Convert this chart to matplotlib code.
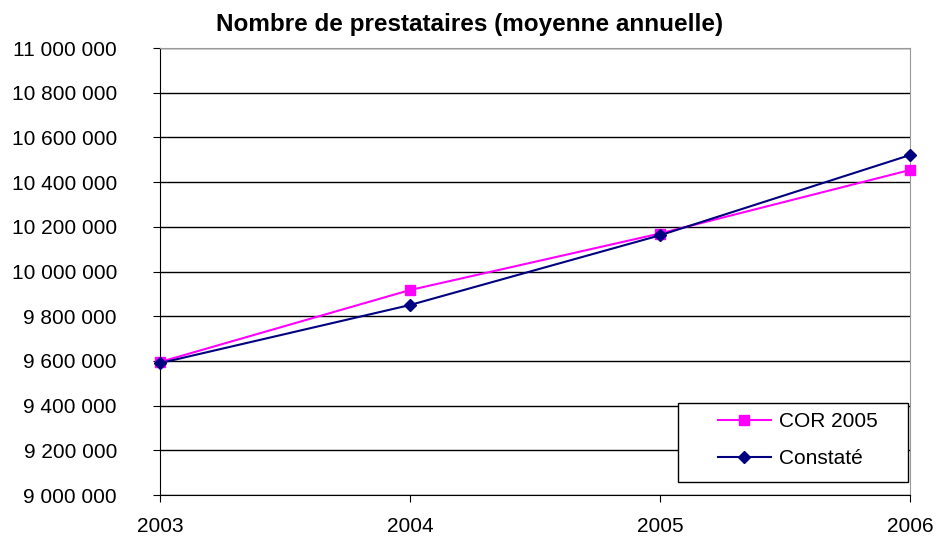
import matplotlib.pyplot as plt
from matplotlib.patches import Rectangle
from matplotlib.ticker import FuncFormatter

years = ['2003', '2004', '2005', '2006']
cor_2005 = [9595000, 9917000, 10170000, 10454000]
constate = [9590000, 9850000, 10162000, 10521000]

plt.rcParams['font.family'] = ['Liberation Sans', 'DejaVu Sans']

W, H = 938, 538
fig = plt.figure(figsize=(W / 100, H / 100), dpi=100)
ax = fig.add_axes([160 / W, 1 - 495 / H, 750 / W, 447 / H])

x = range(len(years))
ax.plot(x, cor_2005, color='#ff00ff', marker='s', markersize=7, linewidth=1.5,
        label='COR 2005', clip_on=False, zorder=3)
ax.plot(x, constate, color='#000080', marker='D', markersize=6.5, linewidth=1.5,
        label='Constaté', clip_on=False, zorder=3)

ax.set_xlim(0, 3)
ax.set_ylim(9000000, 11000000)
ax.set_yticks(range(9000000, 11000001, 200000))
ax.yaxis.set_major_formatter(FuncFormatter(lambda v, p: f'{int(v):,}'.replace(',', ' ')))
ax.set_xticks(list(x))
ax.set_xticklabels(years)

ax.grid(axis='y', color='black', linewidth=1)
ax.set_axisbelow(True)
for side in ['top', 'right']:
    ax.spines[side].set_color('#999999')
ax.spines['left'].set_color('black')
ax.spines['bottom'].set_color('black')
ax.tick_params(axis='y', labelsize=15, length=5, color='black', pad=26)
ax.tick_params(axis='x', labelsize=15, length=5, color='black', pad=11)

fig.text(0.501, 1 - 24 / H, 'Nombre de prestataires (moyenne annuelle)', fontsize=17.5,
         fontweight='bold', ha='center', va='center')

# legend box
ax.add_patch(Rectangle((678 / W, 1 - 482 / H), 230 / W, 79 / H, transform=fig.transFigure,
                       facecolor='white', edgecolor='black', linewidth=1, zorder=4.5,
                       clip_on=False))
leg = ax.legend(loc='center left', bbox_to_anchor=(708 / W, 1 - 440 / H),
                bbox_transform=fig.transFigure, fontsize=15, frameon=False,
                handlelength=2.5, handletextpad=0.4, borderpad=0, labelspacing=0.85)
leg.set_zorder(5)

fig.savefig('out.png', dpi=100)
